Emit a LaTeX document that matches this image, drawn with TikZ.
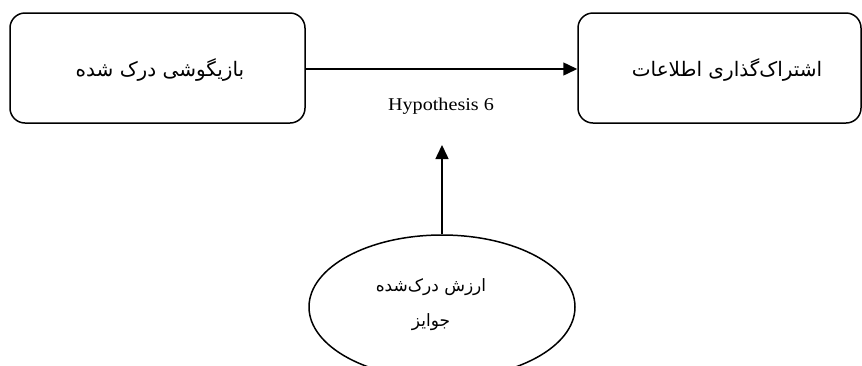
\documentclass[tikz,border=0pt]{standalone}
\usepackage{fontspec}
\setmainfont{Liberation Serif}
\newfontfamily\arabicfont[Script=Arabic]{DejaVu Sans}
\TeXXeTstate=1
\usetikzlibrary{arrows.meta,shapes.geometric}
\begin{document}
\begin{tikzpicture}[x=1pt,y=-1pt,
  box/.style={draw, line width=1.5pt, rounded corners=15pt, minimum width=295pt, minimum height=110pt, inner sep=0pt},
  fa/.style={font=\arabicfont\fontsize{20}{35}\selectfont, text=black},
  fae/.style={font=\arabicfont\fontsize{17}{35}\selectfont, text=black},
  conn/.style={line width=1.5pt, -{Triangle[length=14pt,width=13pt]}}]
\useasboundingbox (0,0) rectangle (862,365);
\clip (0,0) rectangle (862,365);
\fill[white] (0,0) rectangle (862,365);
\node[box] (left) at (157.5,68) {};
\node[box, minimum width=283pt] (right) at (719.5,68) {};
\node[fa] (lt) at (160,70) {\beginR بازیگوشی درک شده\endR};
\node[fa] (rt) at (727,70) {\beginR اشتراک‌گذاری اطلاعات\endR};
\node[draw, ellipse, line width=1.5pt, minimum width=266pt, minimum height=144pt, inner sep=0pt] (e) at (442,307) {};
\node[fae, align=center] (et) at (431,305) {\beginR ارزش درک‌شده\endR\\\beginR جوایز\endR};
\node[font=\fontsize{18}{20}\selectfont] (hyp) at (441,106) {\scalebox{1.12}[1]{Hypothesis 6}};
\coordinate (tip) at (442,145);
\draw[conn] (left.east |- 0,69) -- (right.west |- 0,69);
\draw[conn] (e.north) -- (tip);
\end{tikzpicture}
\end{document}
